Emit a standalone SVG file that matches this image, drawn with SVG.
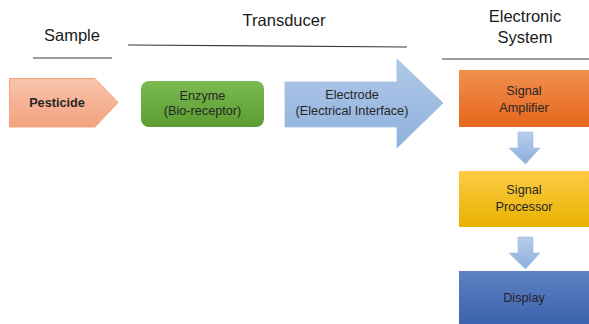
<svg xmlns="http://www.w3.org/2000/svg" width="589" height="324" viewBox="0 0 589 324">
<defs>
<linearGradient id="gPest" x1="0" y1="0" x2="0" y2="1"><stop offset="0" stop-color="#f8c4ac"/><stop offset="1" stop-color="#f4a27e"/></linearGradient>
<linearGradient id="gEnz" x1="0" y1="0" x2="0" y2="1"><stop offset="0" stop-color="#7cba52"/><stop offset="1" stop-color="#5c9c30"/></linearGradient>
<linearGradient id="gElec" x1="0" y1="0" x2="0" y2="1"><stop offset="0" stop-color="#b0c9e8"/><stop offset="1" stop-color="#8eb0dc"/></linearGradient>
<linearGradient id="gAmp" x1="0" y1="0" x2="0" y2="1"><stop offset="0" stop-color="#f1904f"/><stop offset="1" stop-color="#e6661c"/></linearGradient>
<linearGradient id="gProc" x1="0" y1="0" x2="0" y2="1"><stop offset="0" stop-color="#fdcb45"/><stop offset="1" stop-color="#e9b200"/></linearGradient>
<linearGradient id="gDisp" x1="0" y1="0" x2="0" y2="1"><stop offset="0" stop-color="#5d80c3"/><stop offset="1" stop-color="#3d63ae"/></linearGradient>
<linearGradient id="gDown" x1="0" y1="0" x2="0" y2="1"><stop offset="0" stop-color="#b8cde9"/><stop offset="1" stop-color="#8cafdd"/></linearGradient>
</defs>
<style>
.h{font-family:"Liberation Sans",Arial,sans-serif;font-size:16.5px;fill:#1a1a1a;text-anchor:middle}
.t{font-family:"Liberation Sans",Arial,sans-serif;font-size:12.7px;fill:#262626;text-anchor:middle}
.b{font-weight:bold}
.rule{stroke:#3a3a3a;stroke-width:1.2;fill:none}
</style>
<g id="headings">
<text class="h" x="72" y="41">Sample</text>
<text class="h" x="284" y="26">Transducer</text>
<text class="h" x="525" y="22">Electronic</text>
<text class="h" x="525" y="43">System</text>
<line class="rule" x1="33" y1="58" x2="112" y2="58"/>
<line class="rule" x1="128" y1="45" x2="407" y2="47"/>
<line class="rule" x1="442" y1="59" x2="589" y2="59"/>
</g>
<g id="pesticide">
<polygon points="9.5,78.5 95,78.5 118,102.5 95,127 9.5,127" fill="url(#gPest)" stroke="#f4a37e" stroke-width="1"/>
<text class="t b" x="57" y="106.5">Pesticide</text>
</g>
<g id="enzyme">
<rect x="141" y="81" width="123" height="46" rx="8" fill="url(#gEnz)"/>
<text class="t" x="202.5" y="100">Enzyme</text>
<text class="t" x="202.5" y="115">(Bio-receptor)</text>
</g>
<g id="electrode">
<polygon points="285,82 397,82 397,59 443,103 397,148 397,127 285,127" fill="url(#gElec)" stroke="#a3bde2" stroke-width="0.8"/>
<text class="t" x="352" y="99">Electrode</text>
<text class="t" x="352" y="115">(Electrical Interface)</text>
</g>
<g id="amplifier">
<rect x="459" y="70" width="130" height="57" fill="url(#gAmp)"/>
<text class="t" x="524" y="95">Signal</text>
<text class="t" x="524" y="112">Amplifier</text>
</g>
<g id="processor">
<rect x="459" y="171" width="130" height="56" fill="url(#gProc)"/>
<text class="t" x="524" y="194">Signal</text>
<text class="t" x="524" y="211">Processor</text>
</g>
<g id="display">
<rect x="459" y="271" width="130" height="53" fill="url(#gDisp)"/>
<text class="t" x="524" y="302">Display</text>
</g>
<g id="connectors">
<polygon points="518,132 533,132 533,148 540,148 525.5,164 509,148 518,148" fill="url(#gDown)" stroke="#9ab8e0" stroke-width="0.6"/>
<polygon points="518,237 533,237 533,253 540,253 525.5,269 509,253 518,253" fill="url(#gDown)" stroke="#9ab8e0" stroke-width="0.6"/>
</g>
</svg>
